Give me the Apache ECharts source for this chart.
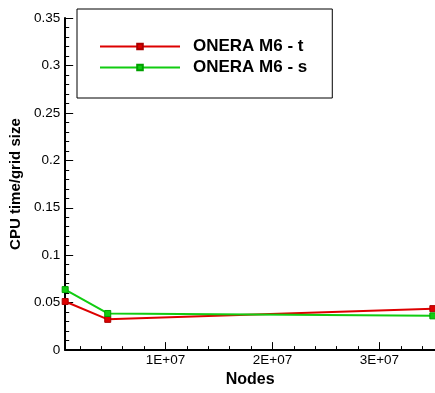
<!DOCTYPE html>
<html>
<head>
<meta charset="utf-8">
<script src="https://cdn.jsdelivr.net/npm/echarts@6/dist/echarts.min.js"></script>
<style>html,body{margin:0;padding:0;background:#fff;}#c{width:435px;height:393px;}</style>
</head>
<body>
<div id="c"></div>
<script>
// Data
var nodes = [620000, 4600000, 35000000];
var seriesT = [0.0512, 0.0324, 0.0437];
var seriesS = [0.0638, 0.0386, 0.0361];
var seriesNames = ['ONERA M6 - t', 'ONERA M6 - s'];
var xMajorTicks = [10000000, 20000000, 30000000];
var xMinorTicks = [2000000, 4000000, 6000000, 8000000, 12000000, 14000000, 16000000, 18000000, 22000000, 24000000, 26000000, 28000000, 32000000, 34000000];
var xMin = 620000, xMax = 35200000;
var yMin = 0, yMax = 0.35, yStep = 0.05;

var FONT = '"Liberation Sans", Arial, Helvetica, sans-serif';
function fmtE(v) {
  var e = Math.floor(Math.log10(v));
  var m = v / Math.pow(10, e);
  return (Math.round(m * 100) / 100) + 'E+' + (e < 10 ? '0' + e : e);
}
var chart = echarts.init(document.getElementById('c'), null, {renderer: 'canvas'});
chart.setOption({
  animation: false,
  backgroundColor: '#fff',
  grid: {left: 62, top: 18, right: 0, bottom: 33, containLabel: false},
  legend: {
    orient: 'vertical', left: 77, top: 9,
    itemWidth: 80, itemHeight: 7, itemGap: 4,
    padding: [29, 25, 22, 22],
    backgroundColor: '#fff', borderColor: '#000', borderWidth: 1,
    textStyle: {fontFamily: FONT, fontWeight: 'bold', fontSize: 17, color: '#000', lineHeight: 14, padding: [0, 0, 0, 8]},
    data: seriesNames
  },
  xAxis: [{
    type: 'value', min: xMin, max: xMax, position: 'bottom',
    name: 'Nodes', nameLocation: 'middle', nameGap: 16,
    nameTextStyle: {fontFamily: FONT, fontWeight: 'bold', fontSize: 16, color: '#000'},
    axisLine: {show: true, lineStyle: {color: '#000', width: 2}},
    axisTick: {show: true, inside: true, length: 8, customValues: xMajorTicks, lineStyle: {color: '#000', width: 1}},
    axisLabel: {show: true, margin: 3, customValues: xMajorTicks, formatter: fmtE, fontFamily: FONT, fontSize: 13.5, color: '#000'},
    splitLine: {show: false}
  }, {
    type: 'value', min: xMin, max: xMax, position: 'bottom',
    axisLine: {show: false},
    axisTick: {show: true, inside: true, length: 4, customValues: xMinorTicks, lineStyle: {color: '#000', width: 1}},
    axisLabel: {show: false},
    splitLine: {show: false}
  }],
  yAxis: {
    type: 'value', min: yMin, max: yMax, interval: yStep,
    name: 'CPU time/grid size', nameLocation: 'middle', nameGap: 36,
    nameTextStyle: {fontFamily: FONT, fontWeight: 'bold', fontSize: 15, color: '#000'},
    axisLine: {show: true, lineStyle: {color: '#000', width: 2}},
    axisTick: {show: true, inside: true, length: 8, lineStyle: {color: '#000', width: 1}},
    minorTick: {show: true, splitNumber: 5, length: 4, lineStyle: {color: '#000', width: 1}},
    axisLabel: {margin: 5, fontFamily: FONT, fontSize: 13.5, color: '#000'},
    splitLine: {show: false}
  },
  series: [{
    name: seriesNames[0], type: 'line', xAxisIndex: 0,
    data: nodes.map(function (x, i) { return [x, seriesT[i]]; }),
    symbol: 'rect', symbolSize: 6, showSymbol: true, clip: false,
    lineStyle: {color: '#dd0000', width: 2},
    itemStyle: {color: '#dd0000', borderColor: '#aa0000', borderWidth: 1}
  }, {
    name: seriesNames[1], type: 'line', xAxisIndex: 0,
    data: nodes.map(function (x, i) { return [x, seriesS[i]]; }),
    symbol: 'rect', symbolSize: 6, showSymbol: true, clip: false,
    lineStyle: {color: '#11cc11', width: 2},
    itemStyle: {color: '#11cc11', borderColor: '#00a000', borderWidth: 1}
  }]
});
</script>
</body>
</html>
